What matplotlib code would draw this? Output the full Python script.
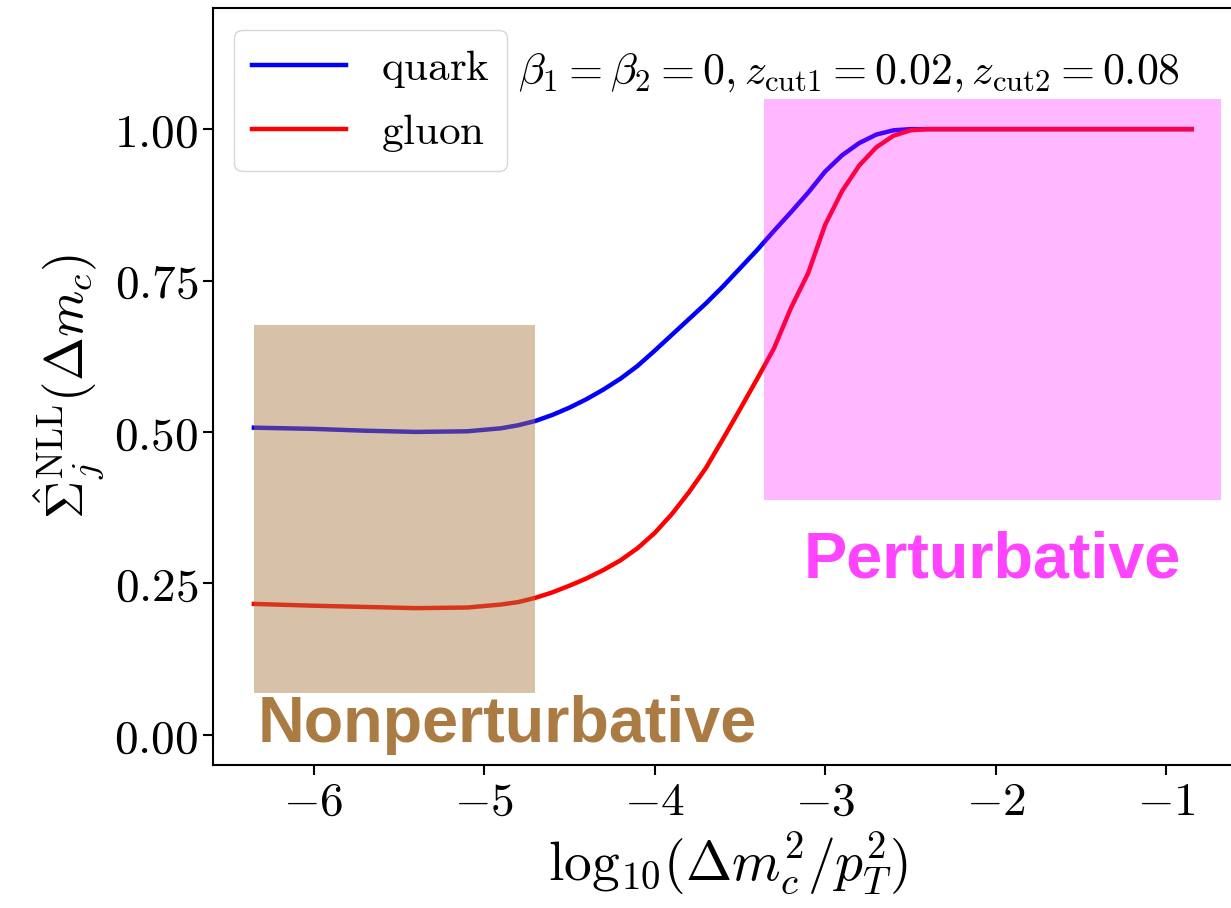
import matplotlib
matplotlib.use("Agg")
import matplotlib.pyplot as plt
from matplotlib.patches import Rectangle
from matplotlib.ticker import FormatStrFormatter

plt.rcParams['mathtext.fontset'] = 'cm'
plt.rcParams['font.family'] = ['DejaVu Serif']

# values
log_dm = [-6.35, -6.0, -5.7, -5.4, -5.1, -4.9, -4.8, -4.7, -4.6, -4.5, -4.4, -4.3,
          -4.2, -4.1, -4.0, -3.9, -3.8, -3.7, -3.6, -3.5, -3.4, -3.3, -3.2, -3.1,
          -3.0, -2.9, -2.8, -2.7, -2.6, -2.5, -2.4, -2.0, -1.5, -0.85]
quark = [0.507, 0.505, 0.502, 0.500, 0.501, 0.506, 0.511, 0.518, 0.528, 0.540, 0.554,
         0.570, 0.588, 0.609, 0.634, 0.660, 0.686, 0.712, 0.740, 0.770, 0.800, 0.832,
         0.863, 0.895, 0.930, 0.957, 0.977, 0.991, 0.998, 1.0, 1.0, 1.0, 1.0, 1.0]
gluon = [0.216, 0.213, 0.211, 0.209, 0.210, 0.215, 0.219, 0.226, 0.235, 0.246, 0.258,
         0.272, 0.288, 0.308, 0.333, 0.364, 0.400, 0.440, 0.488, 0.537, 0.587, 0.638,
         0.705, 0.762, 0.842, 0.898, 0.940, 0.970, 0.989, 0.998, 1.0, 1.0, 1.0, 1.0]

# shaded regions: (x0, x1, y0, y1)
nonpert_box = (-6.35, -4.70, 0.069, 0.677)
pert_box = (-3.36, -0.68, 0.388, 1.05)

fig = plt.figure(figsize=(12.31, 9.08), dpi=100)
ax = fig.add_axes([0.173, 0.1575, 0.8367, 0.8337])

ax.plot(log_dm, quark, color='blue', lw=3.2, label=r'$\mathrm{quark}$')
ax.plot(log_dm, gluon, color='red', lw=3.2, label=r'$\mathrm{gluon}$')

x0, x1, y0, y1 = nonpert_box
ax.add_patch(Rectangle((x0, y0), x1 - x0, y1 - y0, color='#a87840', alpha=0.45,
                       lw=0, zorder=3))
x0, x1, y0, y1 = pert_box
ax.add_patch(Rectangle((x0, y0), x1 - x0, y1 - y0, color='magenta', alpha=0.28,
                       lw=0, zorder=3))

ax.text(-6.33, -0.012, 'Nonperturbative', family='Liberation Sans', weight='bold',
        fontsize=46.5, color='#aa7b42', ha='left', va='baseline')
ax.text(-2.02, 0.259, 'Perturbative', family='Liberation Sans', weight='bold',
        fontsize=46.5, color='#ff44ff', ha='center', va='baseline')
ax.text(-2.86, 1.094,
        r'$\beta_1=\beta_2=0, z_{\rm cut1}=0.02, z_{\rm cut2}=0.08$',
        fontsize=31.5, ha='center', va='center')

ax.set_xlim(-6.59, -0.55)
ax.set_ylim(-0.05, 1.2)
ax.set_xticks([-6, -5, -4, -3, -2, -1])
ax.set_yticks([0.0, 0.25, 0.5, 0.75, 1.0])
ax.xaxis.set_major_formatter(FormatStrFormatter(r'$%d$'))
ax.yaxis.set_major_formatter(FormatStrFormatter(r'$%.2f$'))
ax.tick_params(labelsize=34, length=7, width=1.5)
for s in ax.spines.values():
    s.set_linewidth(1.5)

ax.set_xlabel(r'$\mathrm{log}_{10}(\Delta m_c^2/p_T^2)$', fontsize=40, labelpad=4)
ax.set_ylabel(r'$\hat{\Sigma}_j^{\rm NLL}(\Delta m_c)$', fontsize=38, labelpad=6)

ax.legend(loc='upper left', fontsize=31, handlelength=2.2, borderaxespad=0.5)

fig.savefig('out.png', dpi=100)
